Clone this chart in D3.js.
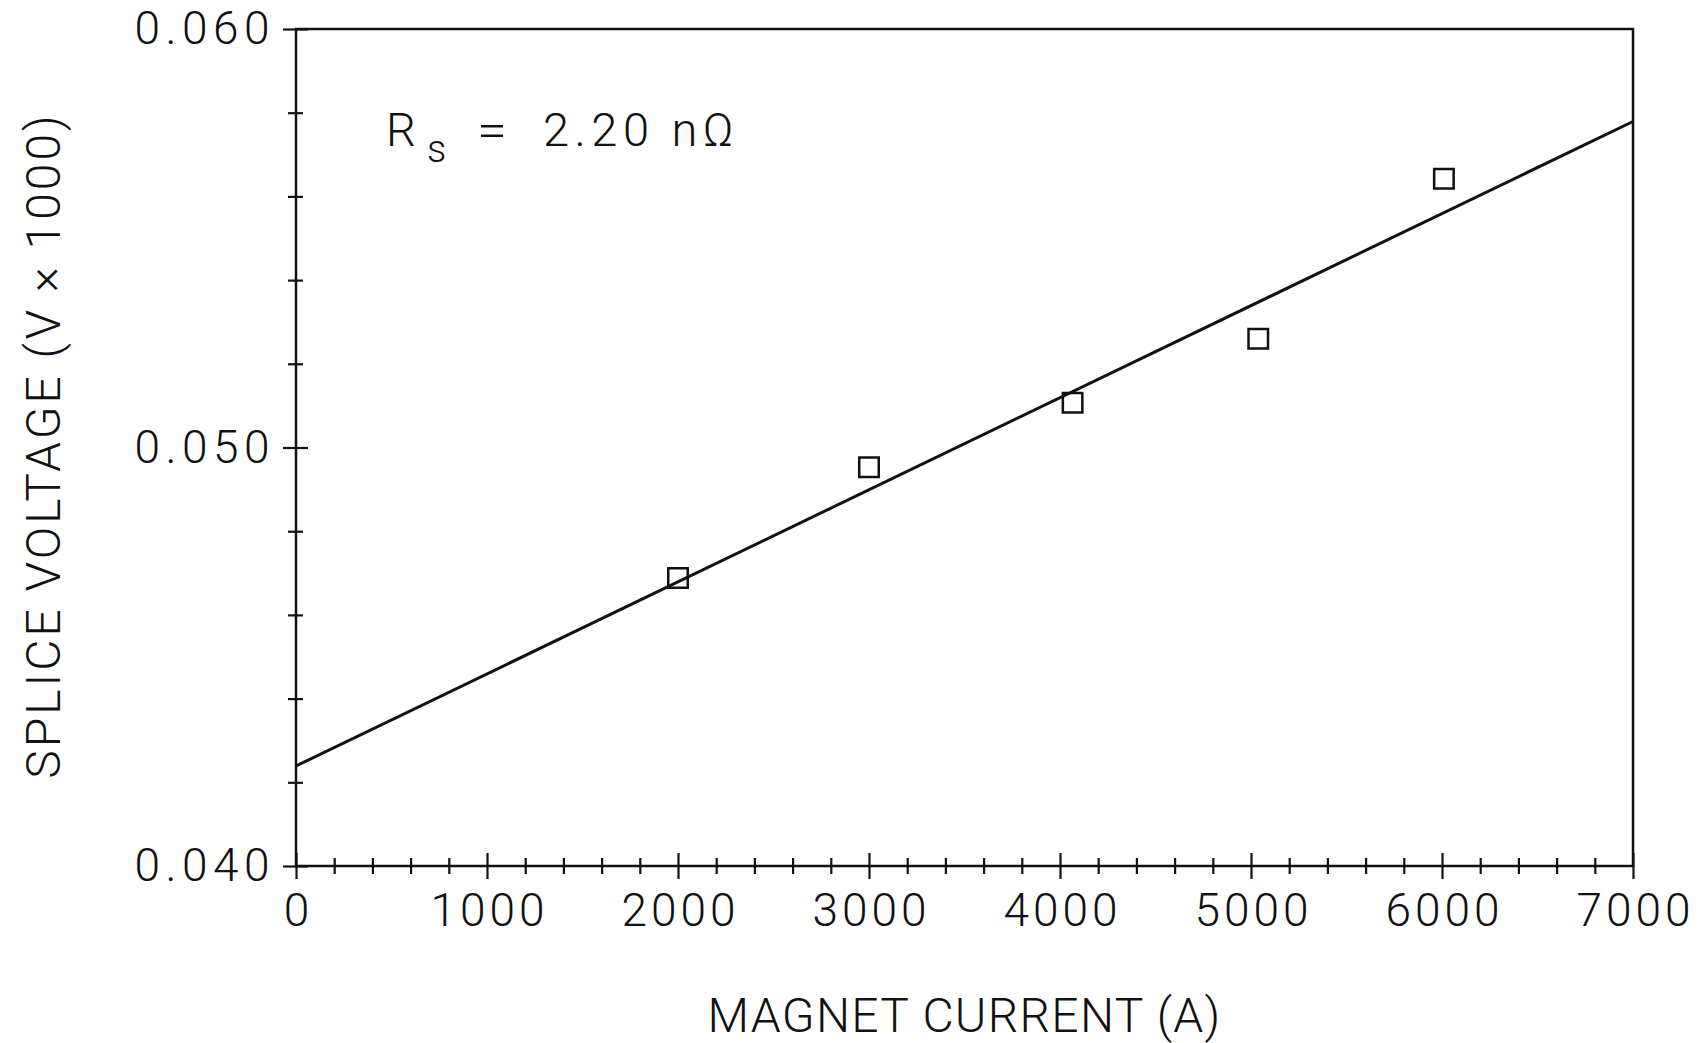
<!DOCTYPE html>
<html>
<head>
<meta charset="utf-8">
<script src="https://cdn.jsdelivr.net/npm/d3@7"></script>
<style>
  body { margin: 0; background: #fff; }
  text { font-family: Roboto, "Liberation Sans", sans-serif; font-weight: 300; fill: #111; }
  .axis text { font-size: 46px; letter-spacing: 4px; }
  .axis line { stroke: #111; stroke-width: 2.2; }
  .axis path { display: none; }
</style>
</head>
<body>
<div id="chart"></div>
<script>
// measured points (magnet current A, splice voltage V x 1000)
var current = [2000, 3000, 4066, 5038, 6010];
var voltage = [0.04688, 0.04953, 0.05107, 0.05260, 0.05642];

// fitted line as drawn on the original, read at both plot edges
var fitCurrent = [0, 7000];
var fitVoltage = [0.04239, 0.05779];

var xMajor = [0, 1000, 2000, 3000, 4000, 5000, 6000, 7000];
var xMinor = d3.range(0, 7001, 200).filter(function (d) { return d % 1000 !== 0; });
var yMajor = [0.040, 0.050, 0.060];
var yMinor = [0.042, 0.044, 0.046, 0.048, 0.052, 0.054, 0.056, 0.058];

var width = 1704, height = 1043;
var plotL = 296, plotR = 1633, plotT = 29, plotB = 866;

var svg = d3.select("#chart").append("svg")
    .attr("width", width)
    .attr("height", height);

var xScale = d3.scaleLinear().domain([0, 7000]).range([plotL, plotR]);
var yScale = d3.scaleLinear().domain([0.040, 0.060]).range([plotB, plotT]);

// frame
svg.append("rect")
    .attr("x", plotL).attr("y", plotT)
    .attr("width", plotR - plotL).attr("height", plotB - plotT)
    .attr("fill", "none")
    .attr("stroke", "#111")
    .attr("stroke-width", 2.5);

// x axis: minor then major, ticks crossing the line
var gxMinor = svg.append("g")
    .attr("class", "axis")
    .attr("transform", "translate(0," + plotB + ")")
    .call(d3.axisBottom(xScale).tickValues(xMinor).tickFormat("").tickSize(8));
gxMinor.selectAll(".tick line").attr("y1", -8);

var gx = svg.append("g")
    .attr("class", "axis")
    .attr("transform", "translate(0," + plotB + ")")
    .call(d3.axisBottom(xScale).tickValues(xMajor).tickFormat(d3.format("d")).tickSize(13).tickPadding(14));
gx.selectAll(".tick line").attr("y1", -13);
gx.selectAll(".tick text").attr("dy", "0.71em").attr("dx", 2);

// y axis
var gyMinor = svg.append("g")
    .attr("class", "axis")
    .attr("transform", "translate(" + plotL + ",0)")
    .call(d3.axisLeft(yScale).tickValues(yMinor).tickFormat("").tickSize(8));
gyMinor.selectAll(".tick line").attr("x1", 7);

var gy = svg.append("g")
    .attr("class", "axis")
    .attr("transform", "translate(" + plotL + ",0)")
    .call(d3.axisLeft(yScale).tickValues(yMajor).tickFormat(d3.format(".3f")).tickSize(13).tickPadding(8));
gy.selectAll(".tick line").attr("x1", 12);
gy.selectAll(".tick text").style("letter-spacing", "5.5px");

// fit line
var line = d3.line()
    .x(function (d) { return xScale(d[0]); })
    .y(function (d) { return yScale(d[1]); });

svg.append("path")
    .datum(d3.zip(fitCurrent, fitVoltage))
    .attr("d", line)
    .attr("fill", "none")
    .attr("stroke", "#111")
    .attr("stroke-width", 3);

// data squares
svg.selectAll(".pt")
    .data(d3.zip(current, voltage))
    .enter().append("path")
    .attr("class", "pt")
    .attr("transform", function (d) { return "translate(" + xScale(d[0]) + "," + yScale(d[1]) + ")"; })
    .attr("d", d3.symbol().type(d3.symbolSquare).size(380))
    .attr("fill", "none")
    .attr("stroke", "#111")
    .attr("stroke-width", 2.5);

// axis titles
svg.append("text")
    .attr("x", (plotL + plotR) / 2)
    .attr("y", 1032)
    .attr("text-anchor", "middle")
    .style("font-size", "48px")
    .style("letter-spacing", "1.3px")
    .text("MAGNET CURRENT (A)");

svg.append("text")
    .attr("transform", "translate(60," + ((plotT + plotB) / 2 - 2) + ") rotate(-90)")
    .attr("text-anchor", "middle")
    .style("font-size", "48px")
    .style("letter-spacing", "3px")
    .text("SPLICE VOLTAGE (V \u00d7 1000)");

// annotation
svg.append("text").attr("x", 386).attr("y", 146).style("font-size", "47px").text("R");
svg.append("text").attr("x", 427).attr("y", 162).style("font-size", "38px").text("s");
svg.append("text").attr("x", 477).attr("y", 146).style("font-size", "47px")
    .attr("textLength", 30).attr("lengthAdjust", "spacingAndGlyphs").text("=");
svg.append("text").attr("x", 543).attr("y", 146).style("font-size", "47px").style("letter-spacing", "5.5px").text("2.20 n\u03a9");
</script>
</body>
</html>
